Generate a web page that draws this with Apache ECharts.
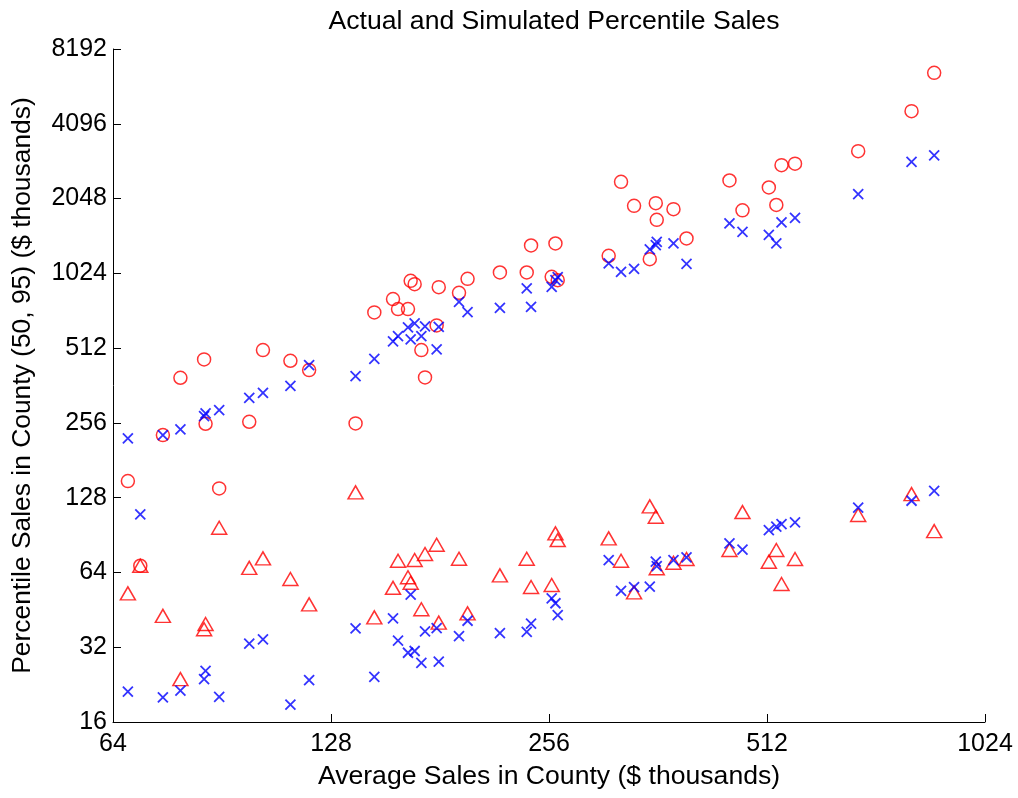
<!DOCTYPE html>
<html>
<head>
<meta charset="utf-8">
<script src="https://cdn.jsdelivr.net/npm/echarts@6/dist/echarts.min.js"></script>
<style>
  html, body { margin: 0; padding: 0; background: #fff; }
  #chart { width: 1018px; height: 798px; }
</style>
</head>
<body>
<div id="chart"></div>
<script>
// Average sales per county ($ thousands)
const avgSales = [
  67.1, 69.8, 75.0, 79.3, 85.5, 85.9, 89.7, 98.7, 103.1, 112.5,
  119.4, 138.4, 146.9, 155.9, 158.4, 163.5, 164.9, 167.0, 170.6, 172.6,
  179.1, 180.3, 192.3, 197.6, 219.0, 238.5, 241.8, 258.2, 261.3, 263.2,
  309.5, 321.9, 335.5, 352.7, 359.5, 360.6, 380.3, 396.4, 454.4, 473.6,
  515.0, 527.4, 536.2, 559.7, 684.2, 810.7, 871.2
];
// Actual 95th percentile sales
const actual95 = [
  149.3, 68.1, 228.6, 388.8, 461.1, 253.9, 139.5, 258.6, 502.6, 455.2,
  417.6, 254.8, 712.7, 806.3, 734.9, 734.9, 955.3, 926.5, 502.6, 390.3,
  631.9, 901.1, 854.8, 973.1, 1032.5, 1032.5, 1325.9, 991.3, 1350.9, 961.5,
  1204.3, 2391, 1914, 1168, 1963, 1681, 1856, 1415, 2422, 1836,
  2270, 1930, 2791, 2830, 3178, 4603, 6566
];
// Simulated 95th percentile sales
const simulated95 = [
  221.8, 109.7, 228.6, 241.0, 272.6, 279.6, 288.2, 323.0, 338.3, 361.0,
  437.4, 395.0, 463.6, 544.8, 572.3, 620.2, 555.0, 643.7, 572.3, 626.1,
  505.9, 623.8, 786.4, 714.7, 743.8, 890.4, 750.7, 903.6, 961.5, 988.5,
  1122.5, 1038.4, 1067.6, 1277.8, 1329.7, 1371, 1350.9, 1118.3, 1626, 1504,
  1463, 1350.9, 1641, 1713, 2133, 2877, 3053
];
// Actual 50th percentile sales
const actual50 = [
  52.7, 68.1, 42.8, 23.8, 37.8, 39.7, 96.8, 66.8, 72.9, 60.2,
  47.6, 134.4, 42.2, 55.5, 71.3, 61.2, 58.2, 71.8, 45.5, 75.9,
  82.7, 40.2, 72.7, 43.8, 62.3, 72.7, 55.9, 57.0, 91.9, 86.4,
  87.8, 71.3, 53.2, 118.1, 107.2, 66.5, 70.0, 72.5, 78.8, 112.0,
  70.7, 78.8, 57.5, 72.5, 109.0, 132.3, 93.9
];
// Simulated 50th percentile sales
const simulated50 = [
  21.2, null, 20.1, 21.4, 23.8, 25.7, 20.2, 33.1, 34.4, 18.8,
  23.6, 38.1, 24.3, 41.8, 34.0, 30.4, 52.1, 30.9, 27.7, 37.1,
  38.2, 28.0, 35.5, 40.9, 36.5, 36.9, 39.8, 50.3, 48.1, 43.1,
  71.8, 54.0, 55.8, 56.1, 70.7, 67.9, 71.8, 73.6, 83.8, 79.0,
  94.8, 97.8, 100.2, 101.8, 116.6, 124.4, 136.4
];

const pairs = ys => avgSales.map((x, i) => [x, ys[i]]).filter(p => p[1] != null);

const FONT = 'Liberation Sans, Arial, Helvetica, sans-serif';
const RED = '#ff0000';
const BLUE = '#0000ff';
const CROSS = 'path://M0,0L10,10M10,0L0,10';
const plainNumber = v => String(Math.round(v));

const axisCommon = {
  type: 'log',
  logBase: 2,
  axisLine: { show: true, lineStyle: { color: '#000', width: 1 } },
  axisTick: { show: true, inside: true, length: 8, lineStyle: { color: '#000', width: 1 } },
  splitLine: { show: false },
  minorTick: { show: false },
  nameLocation: 'middle',
  nameTextStyle: { color: '#000', fontFamily: FONT, fontSize: 26.6 }
};

const chart = echarts.init(document.getElementById('chart'), null, { renderer: 'canvas' });
chart.setOption({
  animation: false,
  backgroundColor: '#fff',
  title: {
    text: 'Actual and Simulated Percentile Sales',
    left: 549,
    textAlign: 'center',
    top: 3,
    textStyle: { color: '#000', fontFamily: FONT, fontSize: 26.6, fontWeight: 'normal' }
  },
  grid: { left: 113, right: 33, top: 49, bottom: 76, containLabel: false },
  xAxis: Object.assign({}, axisCommon, {
    min: 64, max: 1024, splitNumber: 5,
    name: 'Average Sales in County ($ thousands)',
    nameGap: 41,
    axisLabel: { color: '#000', fontFamily: FONT, fontSize: 25, margin: 10, formatter: plainNumber }
  }),
  yAxis: Object.assign({}, axisCommon, {
    min: 16, max: 8192, splitNumber: 10,
    name: 'Percentile Sales in County (50, 95) ($ thousands)',
    nameGap: 77,
    nameTextStyle: { color: '#000', fontFamily: FONT, fontSize: 26.4 },
    axisLabel: { color: '#000', fontFamily: FONT, fontSize: 25, margin: 6, formatter: plainNumber }
  }),
  series: [
    {
      name: 'Actual 95th', type: 'scatter', data: pairs(actual95),
      symbol: 'circle', symbolSize: 13,
      itemStyle: { color: 'rgba(0,0,0,0)', borderColor: RED, borderWidth: 1.5 }
    },
    {
      name: 'Simulated 95th', type: 'scatter', data: pairs(simulated95),
      symbol: CROSS, symbolSize: 10,
      itemStyle: { color: 'rgba(0,0,0,0)', borderColor: BLUE, borderWidth: 1.8 }
    },
    {
      name: 'Actual 50th', type: 'scatter', data: pairs(actual50),
      symbol: 'triangle', symbolSize: [15, 13],
      itemStyle: { color: 'rgba(0,0,0,0)', borderColor: RED, borderWidth: 1.5 }
    },
    {
      name: 'Simulated 50th', type: 'scatter', data: pairs(simulated50),
      symbol: CROSS, symbolSize: 10,
      itemStyle: { color: 'rgba(0,0,0,0)', borderColor: BLUE, borderWidth: 1.8 }
    }
  ]
});
</script>
</body>
</html>
